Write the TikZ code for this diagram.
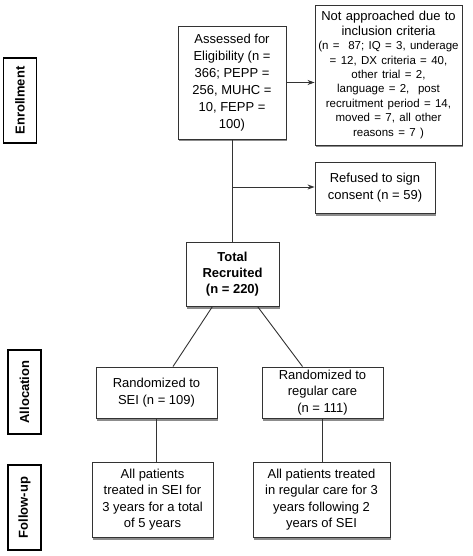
\documentclass[tikz,border=0pt]{standalone}
\usepackage{fontspec}
\setmainfont{Liberation Sans}
\usetikzlibrary{positioning,calc,arrows.meta,shadows}
\tikzset{font=\fontsize{13}{16.5}\selectfont}
\definecolor{linegray}{HTML}{333333}

\begin{document}
\begin{tikzpicture}[x=1pt, y=-1pt]
	\useasboundingbox (0,0) rectangle (472,556);
	\tikzset{
		box/.style={draw=linegray, fill=white, line width=0.9pt, align=center, inner sep=0pt,
			drop shadow={shadow xshift=1.2pt, shadow yshift=-2.5pt, opacity=0.45, fill=black}},
		phase/.style={draw=black, line width=1.6pt, rotate=90, inner sep=0pt,
			minimum height=33pt, font=\fontsize{13}{16}\selectfont\bfseries},
		link/.style={draw=linegray, line width=0.9pt}
	}
	\begin{scope}
		% phase labels
		\node[phase, minimum width=85pt] (enroll) at (20, 100.5) {Enrollment};
		\node[phase, minimum width=84pt] (alloc) at (24.5, 392) {Allocation};
		\node[phase, minimum width=85pt] (follow) at (24.5, 507.5) {Follow-up};

		% enrollment
		\node[box, minimum width=108pt, minimum height=113pt,
			font=\fontsize{13}{17}\selectfont] (assess) at (232, 82.5)
			{Assessed for\\Eligibility (n =\\366; PEPP =\\256, MUHC =\\10, FEPP =\\100)};
		\node[box, minimum width=147pt, minimum height=140pt, text width=145pt,
			font=\fontsize{13}{14.4}\selectfont] (notappr) at (388.5, 75)
			{Not approached due to\\inclusion criteria\\
			\fontsize{11.5}{14.4}\selectfont (n =\ \ 87; IQ = 3, underage\\= 12, DX criteria = 40,\\other trial = 2,\\language = 2,\ \ post\\recruitment period = 14,\\moved = 7, all other\\reasons = 7 )};
		\node[box, minimum width=120pt, minimum height=51pt] (refused) at (375, 187.5)
			{Refused to sign\\consent (n = 59)};
		\node[box, minimum width=93pt, minimum height=64pt,
			font=\fontsize{13}{16}\selectfont\bfseries] (total) at (232.5, 274)
			{Total\\Recruited\\(n = 220)};

		% allocation
		\node[box, minimum width=121pt, minimum height=51pt] (randsei) at (156.5, 392.5)
			{Randomized to\\SEI (n = 109)};
		\node[box, minimum width=121pt, minimum height=51pt] (randreg) at (322.5, 392.5)
			{Randomized to\\regular care\\(n = 111)};

		% follow-up
		\node[box, minimum width=121pt, minimum height=75pt] (fusei) at (152.5, 499.5)
			{All patients\\treated in SEI for\\3 years for a total\\of 5 years};
		\node[box, minimum width=137pt, minimum height=75pt] (fureg) at (321.5, 499.5)
			{All patients treated\\in regular care for 3\\years following 2\\years of SEI};

		\coordinate (split) at (232, 187);

		\draw [link, -{Stealth[length=7pt, width=5pt]}] (assess.east) to (assess.east -| notappr.west);
		\draw [link] (assess.south) to (assess.south |- total.north);
		\draw [link, -{Stealth[length=7pt, width=5pt]}] (split) to (split -| refused.west);
		\draw [link] ([xshift=-20pt]total.south) to ([xshift=16.5pt]randsei.north);
		\draw [link] ([xshift=25pt]total.south) to ([xshift=-20pt]randreg.north);
		\draw [link] (randsei.south) to (randsei.south |- fusei.north);
		\draw [link] (randreg.south) to (randreg.south |- fureg.north);
	\end{scope}
\end{tikzpicture}
\end{document}
